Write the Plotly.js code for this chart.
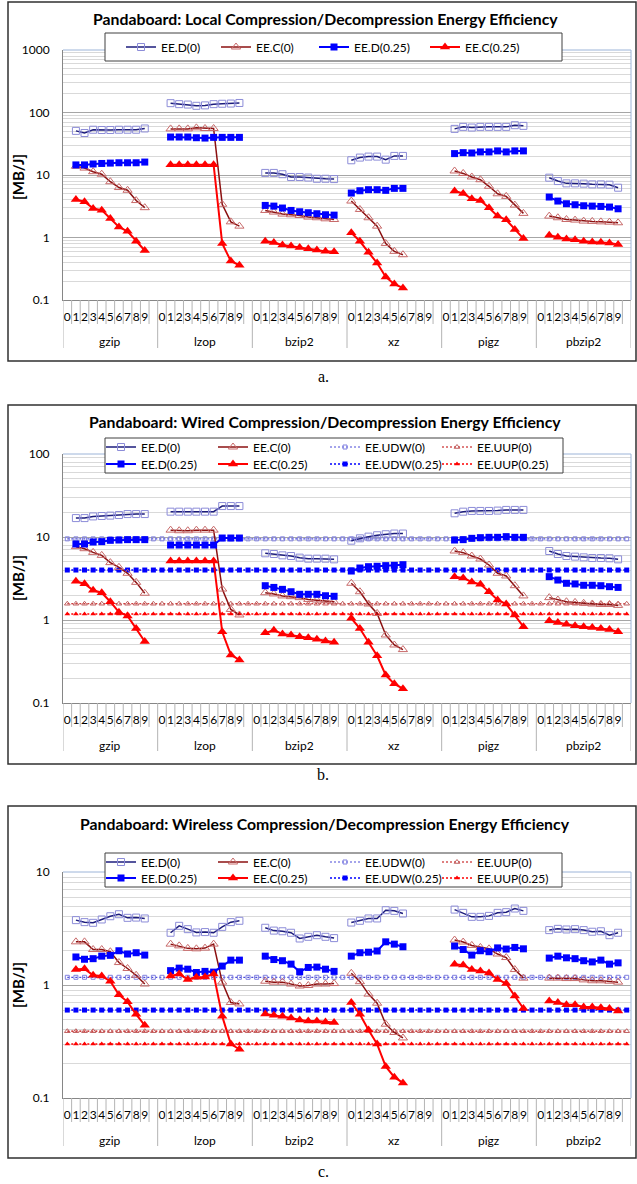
<!DOCTYPE html>
<html><head><meta charset="utf-8">
<script src="https://cdn.plot.ly/plotly-3.0.1.min.js"></script>
<style>html,body{margin:0;padding:0;background:#fff}#chart{width:637px;height:1184px}</style>
</head><body><div id="chart"></div>
<script>
// ---------------- DATA ----------------
const groups = ['gzip', 'lzop', 'bzip2', 'xz', 'pigz', 'pbzip2'];
const levels = ['0', '1', '2', '3', '4', '5', '6', '7', '8', '9'];
const chartTitles = [
  'Pandaboard: Local Compression/Decompression Energy Efficiency',
  'Pandaboard: Wired Compression/Decompression Energy Efficiency',
  'Pandaboard: Wireless Compression/Decompression Energy Efficiency'
];
const captions = ['a.', 'b.', 'c.'];
const yTitle = '[MB/J]';

// (a) Local  -- 10 values per group (levels 0..9), null = no data
const localD0 = [
  null, 50.8, 47, 53, 52.5, 52.5, 53, 53, 53, 55.5,
  null, 141, 136, 134, 128, 130, 136, 138, 139, 142,
  null, 10.8, 10.8, 10.3, 9.3, 9.3, 9.1, 8.7, 8.7, 8.6,
  17.2, 19.0, 19.7, 19.7, 17.6, 20.2, 20.2, null, null, null,
  null, 54.7, 58.9, 57.5, 58.9, 58.9, 58.9, 58.9, 62.6, 61.1,
  null, 9.06, 8.0, 7.35, 7.35, 7.27, 7.08, 7.08, 7.0, 6.26
];
const localC0 = [
  null, 13.8, 12.9, 11.3, 10.3, 7.8, 6.3, 5.7, 3.9, 3.0,
  null, 54.7, 54.7, 54.7, 56.8, 55.5, 55.5, 3.4, 1.78, 1.52,
  null, 2.71, 2.55, 2.37, 2.31, 2.25, 2.12, 2.07, 1.99, 1.94,
  3.83, 2.81, 2.07, 1.52, 0.80, 0.60, 0.53, null, null, null,
  null, 11.6, 10.6, 9.3, 8.4, 6.6, 5.0, 4.55, 3.30, 2.43,
  null, 2.20, 2.07, 1.94, 1.90, 1.83, 1.81, 1.78, 1.76, 1.72
];
const localD025 = [
  null, 14.5, 14.5, 15.0, 15.3, 15.5, 15.7, 15.7, 15.7, 16.1,
  null, 40.5, 40.5, 40.5, 39.5, 39, 40, 40, 40, 40,
  null, 3.26, 3.18, 2.96, 2.71, 2.58, 2.49, 2.40, 2.31, 2.28,
  5.14, 5.6, 5.82, 5.82, 5.68, 6.11, 6.11, null, null, null,
  null, 22.0, 22.8, 22.5, 23.4, 23.4, 24.3, 23.4, 24.3, 24.3,
  null, 4.44, 3.83, 3.47, 3.34, 3.22, 3.18, 3.14, 3.07, 2.88
];
const localC025 = [
  null, 4.07, 3.73, 2.92, 2.74, 2.02, 1.47, 1.26, 0.87, 0.62,
  null, 14.6, 14.6, 14.6, 14.6, 14.6, 14.6, 0.80, 0.42, 0.36,
  null, 0.87, 0.83, 0.76, 0.73, 0.69, 0.66, 0.63, 0.60, 0.59,
  1.19, 0.87, 0.58, 0.39, 0.234, 0.18, 0.156, null, null, null,
  null, 5.54, 5.08, 4.17, 3.92, 2.99, 2.20, 1.92, 1.34, 0.96,
  null, 1.09, 1.01, 0.95, 0.92, 0.87, 0.85, 0.84, 0.82, 0.77
];

// (b) Wired
const wiredD0 = [
  null, 16.9, 16.9, 17.7, 17.9, 18.1, 18.4, 18.9, 18.9, 18.9,
  null, 20.2, 20.2, 20.2, 20.2, 20.2, 20.2, 23.6, 23.6, 23.6,
  null, 6.36, 6.24, 6.01, 5.90, 5.64, 5.48, 5.48, 5.48, 5.38,
  9.03, 9.64, 10.1, 10.5, 10.8, 11.0, 11.0, null, null, null,
  null, 19.3, 20.2, 20.6, 20.6, 20.6, 20.8, 21.2, 21.2, 21.2,
  null, 6.78, 6.24, 5.90, 5.80, 5.69, 5.58, 5.58, 5.54, 5.38
];
const wiredC0 = [
  null, 7.65, 7.23, 6.53, 6.01, 4.91, 4.31, 3.65, 2.84, 2.10,
  null, 12.1, 11.9, 11.9, 12.1, 12.1, 12.1, 2.36, 1.34, 1.15,
  null, 2.13, 2.06, 1.95, 1.91, 1.86, 1.77, 1.74, 1.71, 1.66,
  2.77, 2.19, 1.56, 1.20, 0.66, 0.50, 0.44, null, null, null,
  null, 6.78, 6.48, 5.90, 5.43, 4.60, 3.65, 3.39, 2.59, 1.95,
  null, 1.86, 1.74, 1.66, 1.63, 1.59, 1.56, 1.54, 1.54, 1.50
];
const wiredD025 = [
  null, 8.24, 8.24, 8.7, 8.79, 9.12, 9.2, 9.29, 9.29, 9.29,
  null, 8.0, 8.0, 8.0, 8.0, 8.0, 8.0, 9.72, 9.72, 9.72,
  null, 2.59, 2.47, 2.34, 2.19, 2.04, 2.04, 2.04, 1.96, 1.93,
  3.89, 4.23, 4.39, 4.44, 4.52, 4.56, 4.64, null, null, null,
  null, 9.2, 9.29, 9.64, 9.82, 9.91, 9.91, 10.1, 9.91, 9.91,
  null, 3.33, 3.03, 2.77, 2.72, 2.62, 2.62, 2.59, 2.52, 2.47
];
const wiredC025 = [
  null, 2.92, 2.74, 2.28, 2.13, 1.66, 1.24, 1.12, 0.79, 0.55,
  null, 5.14, 5.14, 5.14, 5.14, 5.14, 5.14, 0.72, 0.38, 0.33,
  null, 0.70, 0.75, 0.68, 0.66, 0.63, 0.61, 0.585, 0.56, 0.54,
  1.05, 0.79, 0.54, 0.37, 0.217, 0.17, 0.149, null, null, null,
  null, 3.33, 3.21, 2.87, 2.69, 2.19, 1.74, 1.56, 1.15, 0.83,
  null, 0.98, 0.93, 0.89, 0.85, 0.83, 0.81, 0.79, 0.77, 0.72
];
const wiredUDW0 = 9.5;
const wiredUDW025 = 4.0;
const wiredUUP0 = 1.57;
const wiredUUP025 = 1.18;

// (c) Wireless
const wirelessD0 = [
  null, 3.75, 3.60, 3.55, 3.80, 4.06, 4.23, 3.93, 3.95, 3.88,
  null, 2.90, 3.34, 3.12, 2.92, 2.94, 2.90, 3.27, 3.60, 3.70,
  null, 3.21, 3.03, 2.99, 2.90, 2.58, 2.67, 2.76, 2.67, 2.60,
  3.57, 3.70, 3.88, 3.88, 4.59, 4.53, 4.29, null, null, null,
  null, 4.65, 4.35, 4.01, 4.01, 4.09, 4.35, 4.41, 4.75, 4.53,
  null, 3.06, 3.14, 3.10, 3.12, 3.06, 2.96, 2.99, 2.76, 2.90
];
const wirelessC0 = [
  null, 2.41, 2.41, 2.06, 2.06, 1.97, 1.58, 1.40, 1.22, 1.02,
  null, 2.30, 2.22, 2.11, 2.09, 2.12, 2.30, 1.06, 0.70, 0.68,
  null, 1.08, 1.06, 1.06, 1.02, 0.98, 0.99, 1.02, 1.02, 1.03,
  1.27, 1.07, 0.83, 0.69, 0.45, 0.38, 0.34, null, null, null,
  null, 2.50, 2.40, 2.24, 2.15, 2.09, 1.88, 1.75, 1.37, 1.15,
  null, 1.15, 1.15, 1.14, 1.14, 1.11, 1.09, 1.09, 1.08, 1.06
];
const wirelessD025 = [
  null, 1.77, 1.69, 1.71, 1.80, 1.83, 2.01, 1.88, 1.93, 1.84,
  null, 1.34, 1.41, 1.38, 1.29, 1.32, 1.30, 1.47, 1.66, 1.66,
  null, 1.80, 1.68, 1.64, 1.53, 1.31, 1.43, 1.44, 1.38, 1.32,
  1.80, 1.93, 1.95, 2.0, 2.41, 2.30, 2.18, null, null, null,
  null, 2.21, 2.06, 1.84, 2.01, 1.97, 2.13, 2.08, 2.15, 2.09,
  null, 1.73, 1.80, 1.74, 1.71, 1.64, 1.60, 1.66, 1.53, 1.57
];
const wirelessC025 = [
  null, 1.37, 1.39, 1.22, 1.20, 1.08, 0.82, 0.71, 0.55, 0.44,
  null, 1.20, 1.25, 1.12, 1.17, 1.18, 1.25, 0.53, 0.30, 0.27,
  null, 0.555, 0.54, 0.53, 0.51, 0.49, 0.48, 0.48, 0.47, 0.465,
  0.70, 0.55, 0.40, 0.30, 0.19, 0.153, 0.136, null, null, null,
  null, 1.53, 1.50, 1.37, 1.33, 1.28, 1.12, 1.03, 0.80, 0.62,
  null, 0.72, 0.70, 0.67, 0.67, 0.64, 0.64, 0.63, 0.62, 0.59
];
const wirelessUDW0 = 1.17;
const wirelessUDW025 = 0.6;
const wirelessUUP0 = 0.39;
const wirelessUUP025 = 0.3;

// ---------------- LAYOUT / STYLE ----------------
const W = 637, H = 1184;
const FONT = 'Lato, "Open Sans", sans-serif';
const px = v => v / W;
const py = v => 1 - v / H;
const SLOTS = levels.length + 1;   // one blank category after each group
const NCAT = groups.length * SLOTS;

const styles = {
  'EE.D(0)':      {mode: 'lines+markers', line: {color: '#1c1c7c', width: 1.5}, marker: {symbol: 'square-open', size: 7, color: '#8c8cd8', line: {width: 1}}},
  'EE.C(0)':      {mode: 'lines+markers', line: {color: '#8b1010', width: 1.5}, marker: {symbol: 'triangle-up-open', size: 8, color: '#c86a6a', line: {width: 1}}},
  'EE.D(0.25)':   {mode: 'lines+markers', line: {color: '#0000ff', width: 2}, marker: {symbol: 'square', size: 7, color: '#0000ff'}},
  'EE.C(0.25)':   {mode: 'lines+markers', line: {color: '#ff0000', width: 2}, marker: {symbol: 'triangle-up', size: 9, color: '#ff0000'}},
  'EE.UDW(0)':    {mode: 'lines+markers', line: {color: '#4a4ad8', width: 1.2, dash: '2px,2px'}, marker: {symbol: 'square-open', size: 4, color: '#8080e0', line: {width: 1}}},
  'EE.UDW(0.25)': {mode: 'lines+markers', line: {color: '#0000ff', width: 1.5, dash: '2px,2px'}, marker: {symbol: 'square', size: 5, color: '#0000ff'}},
  'EE.UUP(0)':    {mode: 'lines+markers', line: {color: '#c00000', width: 1.2, dash: '2px,2px'}, marker: {symbol: 'triangle-up-open', size: 5, color: '#c06060', line: {width: 1}}},
  'EE.UUP(0.25)': {mode: 'lines+markers', line: {color: '#ff0000', width: 1.5, dash: '2px,2px'}, marker: {symbol: 'triangle-up', size: 5, color: '#ff0000'}}
};

const panels = [
  {top: 50, bottom: 300, yr: [-1, 3], boxTop: 2, boxBottom: 361, titleY: 18, capY: 376, yTitleY: 177,
   legendBox: [105, 33, 562, 61],
   series: [['EE.D(0)', localD0], ['EE.C(0)', localC0], ['EE.D(0.25)', localD025], ['EE.C(0.25)', localC025]],
   consts: [],
   legends: [{y: 47, x: 121, items: ['EE.D(0)', 'EE.C(0)', 'EE.D(0.25)', 'EE.C(0.25)'], widths: [50, 53, 66, 66]}]},
  {top: 454, bottom: 703, yr: [-1, 2], boxTop: 405, boxBottom: 764, titleY: 422, capY: 774, yTitleY: 578,
   legendBox: [105, 438, 563, 473],
   series: [['EE.D(0)', wiredD0], ['EE.C(0)', wiredC0], ['EE.D(0.25)', wiredD025], ['EE.C(0.25)', wiredC025]],
   consts: [['EE.UDW(0)', wiredUDW0], ['EE.UUP(0)', wiredUUP0], ['EE.UDW(0.25)', wiredUDW025], ['EE.UUP(0.25)', wiredUUP025]],
   legends: [{y: 447, x: 101, items: ['EE.D(0)', 'EE.C(0)', 'EE.UDW(0)', 'EE.UUP(0)'], widths: [67, 67, 67, 67]},
             {y: 464, x: 101, items: ['EE.D(0.25)', 'EE.C(0.25)', 'EE.UDW(0.25)', 'EE.UUP(0.25)'], widths: [67, 67, 67, 67]}]},
  {top: 872, bottom: 1098, yr: [-1, 1], boxTop: 806, boxBottom: 1158, titleY: 823, capY: 1171, yTitleY: 985,
   legendBox: [105, 853, 562, 887],
   series: [['EE.D(0)', wirelessD0], ['EE.C(0)', wirelessC0], ['EE.D(0.25)', wirelessD025], ['EE.C(0.25)', wirelessC025]],
   consts: [['EE.UDW(0)', wirelessUDW0], ['EE.UUP(0)', wirelessUUP0], ['EE.UDW(0.25)', wirelessUDW025], ['EE.UUP(0.25)', wirelessUUP025]],
   legends: [{y: 862, x: 101, items: ['EE.D(0)', 'EE.C(0)', 'EE.UDW(0)', 'EE.UUP(0)'], widths: [67, 67, 67, 67]},
             {y: 878, x: 101, items: ['EE.D(0.25)', 'EE.C(0.25)', 'EE.UDW(0.25)', 'EE.UUP(0.25)'], widths: [67, 67, 67, 67]}]}
];
const PLOT_L = 63, PLOT_R = 631;

function catX() {
  const xs = [];
  groups.forEach((g, gi) => { for (let l = 0; l < SLOTS; l++) xs.push(gi * SLOTS + l); });
  return xs;
}
function catY(vals) {
  const ys = [];
  groups.forEach((g, gi) => {
    for (let l = 0; l < levels.length; l++) ys.push(vals[gi * levels.length + l]);
    ys.push(null);
  });
  return ys;
}

const data = [];
const layout = {
  width: W, height: H, margin: {l: 0, r: 0, t: 0, b: 0},
  paper_bgcolor: '#ffffff', plot_bgcolor: '#ffffff', showlegend: true,
  font: {family: FONT, size: 12, color: '#000'},
  shapes: [], annotations: []
};

let legendCounter = 0;
panels.forEach((p, k) => {
  const sfx = k === 0 ? '' : String(k + 1);
  const xa = 'x' + sfx, ya = 'y' + sfx;

  const legendIds = {}, legendW = {}, legendRank = {};
  p.legends.forEach(lg => {
    legendCounter++;
    const lid = legendCounter === 1 ? 'legend' : 'legend' + legendCounter;
    layout[lid] = {
      orientation: 'h', x: px(lg.x), xanchor: 'left', y: py(lg.y), yanchor: 'middle',
      bgcolor: 'rgba(0,0,0,0)', borderwidth: 0, itemwidth: 30,
      font: {family: FONT, size: 12, color: '#000'}, itemclick: false, itemdoubleclick: false
    };
    lg.items.forEach((name, i) => { legendIds[name] = lid; legendW[name] = lg.widths[i]; legendRank[name] = i + 1; });
  });

  const xs = catX();
  p.consts.forEach(([name, val]) => {
    data.push(Object.assign({
      type: 'scatter', name: name, x: xs, y: xs.map(() => val), xaxis: xa, yaxis: ya,
      legend: legendIds[name], legendwidth: legendW[name], legendrank: legendRank[name],
      hoverinfo: 'skip', cliponaxis: false
    }, JSON.parse(JSON.stringify(styles[name]))));
  });
  p.series.forEach(([name, vals]) => {
    data.push(Object.assign({
      type: 'scatter', name: name, x: xs, y: catY(vals), xaxis: xa, yaxis: ya, connectgaps: false,
      legend: legendIds[name], legendwidth: legendW[name], legendrank: legendRank[name],
      hoverinfo: 'skip', cliponaxis: false
    }, JSON.parse(JSON.stringify(styles[name]))));
  });

  const tickvals = [], ticktext = [];
  groups.forEach((g, gi) => levels.forEach((lv, li) => { tickvals.push(gi * SLOTS + li); ticktext.push(lv); }));
  layout['xaxis' + sfx] = {
    domain: [px(PLOT_L), px(PLOT_R)], anchor: ya, range: [-0.5, NCAT - 0.5],
    tickmode: 'array', tickvals: tickvals, ticktext: ticktext, ticks: '', ticklabelstandoff: 6,
    tickfont: {family: FONT, size: 12, color: '#000'}, tickangle: 0,
    showgrid: false, zeroline: false, showline: true, linecolor: '#868686', linewidth: 1, fixedrange: true
  };
  const decades = [], minors = [];
  for (let e = p.yr[0]; e <= p.yr[1]; e++) {
    decades.push(Math.pow(10, e));
    if (e < p.yr[1]) for (let m = 2; m <= 9; m++) minors.push(m * Math.pow(10, e));
  }
  layout['yaxis' + sfx] = {
    type: 'log', domain: [py(p.bottom), py(p.top)], anchor: xa, range: p.yr,
    tickmode: 'array', tickvals: decades, ticktext: decades.map(v => String(v)),
    ticks: '', ticklabelstandoff: 10, tickfont: {family: FONT, size: 12, color: '#000'},
    showgrid: true, gridcolor: '#a6a6a6', gridwidth: 1,
    minor: {tickmode: 'array', tickvals: minors, showgrid: true, gridcolor: '#d9d9d9', gridwidth: 1, ticks: ''},
    zeroline: false, showline: true, linecolor: '#868686', linewidth: 1, fixedrange: true
  };

  layout.shapes.push({type: 'line', xref: xa + ' domain', yref: ya + ' domain', x0: 0, x1: 1, y0: 1, y1: 1, line: {color: '#9cb4d8', width: 1}, layer: 'above'});
  layout.shapes.push({type: 'line', xref: xa + ' domain', yref: ya + ' domain', x0: 1, x1: 1, y0: 0, y1: 1, line: {color: '#9cb4d8', width: 1}, layer: 'above'});

  const axisY = py(p.bottom);
  for (let i = 0; i < NCAT; i++) {
    if ((i + 1) % SLOTS === 0) continue;
    layout.shapes.push({type: 'line', xref: xa, yref: 'paper', x0: i + 0.5, x1: i + 0.5, y0: axisY, y1: py(p.bottom + 24), line: {color: '#b4b4b4', width: 1}});
  }
  for (let g = 0; g <= groups.length; g++) {
    const xv = g * SLOTS - 0.5;
    layout.shapes.push({type: 'line', xref: xa, yref: 'paper', x0: xv, x1: xv, y0: axisY, y1: py(p.bottom + 48), line: {color: '#b4b4b4', width: 1}});
  }
  groups.forEach((g, gi) => {
    layout.annotations.push({xref: xa, yref: 'paper', x: gi * SLOTS + (levels.length - 1) / 2 + 0.5, y: py(p.bottom + 42),
      text: g, showarrow: false, xanchor: 'center', yanchor: 'middle', font: {family: FONT, size: 12, color: '#000'}});
  });

  const lb = p.legendBox;
  layout.shapes.push({type: 'rect', xref: 'paper', yref: 'paper', x0: px(lb[0]), x1: px(lb[2]), y0: py(lb[3]), y1: py(lb[1]),
    line: {color: '#404040', width: 1}, fillcolor: '#ffffff', layer: 'above'});

  layout.shapes.push({type: 'rect', xref: 'paper', yref: 'paper', x0: px(8), x1: px(636), y0: py(p.boxBottom), y1: py(p.boxTop),
    line: {color: '#303030', width: 1.5}, fillcolor: 'rgba(0,0,0,0)', layer: 'above'});

  layout.annotations.push({xref: 'paper', yref: 'paper', x: px(325), y: py(p.titleY), text: chartTitles[k], showarrow: false,
    xanchor: 'center', yanchor: 'middle', font: {family: FONT, size: 15.8, color: '#000', weight: 700}});
  layout.annotations.push({xref: 'paper', yref: 'paper', x: px(18), y: py(p.yTitleY), text: yTitle, showarrow: false, textangle: -90,
    xanchor: 'center', yanchor: 'middle', font: {family: FONT, size: 15, color: '#000', weight: 700}});
  layout.annotations.push({xref: 'paper', yref: 'paper', x: px(323), y: py(p.capY), text: captions[k], showarrow: false,
    xanchor: 'center', yanchor: 'middle', font: {family: '"Liberation Serif", "DejaVu Serif", serif', size: 16, color: '#000'}});
});

Plotly.newPlot('chart', data, layout, {staticPlot: true, displayModeBar: false});
</script>
</body></html>
